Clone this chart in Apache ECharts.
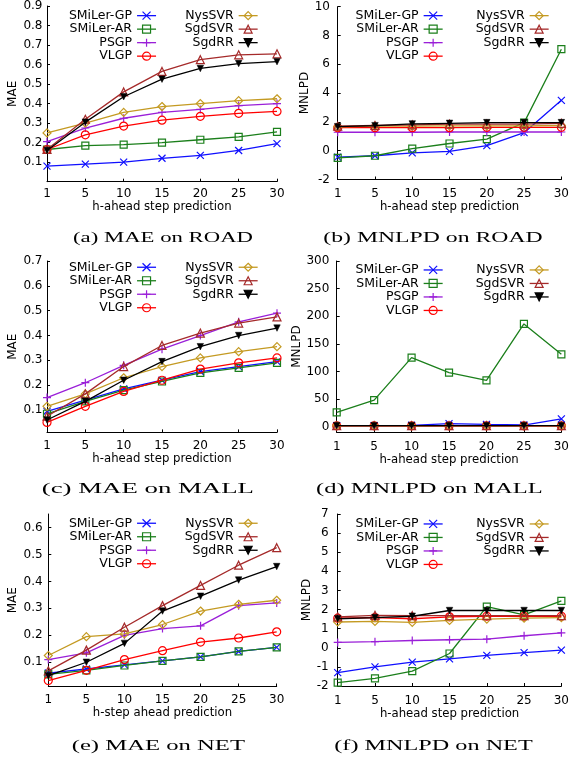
<!DOCTYPE html>
<html><head><meta charset="utf-8">
<script src="https://cdn.jsdelivr.net/npm/echarts@6/dist/echarts.min.js"></script>
<style>html,body{margin:0;padding:0;background:#fff}#c{width:572px;height:762px}</style>
</head><body><div id="c"></div>
<script>
// ---------- data ----------
const steps = ['1', '5', '10', '15', '20', '25', '30'];
const methods = ['SMiLer-GP', 'SMiLer-AR', 'PSGP', 'VLGP', 'NysSVR', 'SgdSVR', 'SgdRR'];

// rows follow `methods`
const maeRoad = [
  [0.08, 0.09, 0.10, 0.12, 0.135, 0.16, 0.195],
  [0.165, 0.185, 0.19, 0.20, 0.215, 0.23, 0.255],
  [0.205, 0.275, 0.325, 0.355, 0.37, 0.39, 0.40],
  [0.165, 0.24, 0.285, 0.315, 0.335, 0.35, 0.36],
  [0.25, 0.30, 0.355, 0.385, 0.40, 0.415, 0.425],
  [0.165, 0.32, 0.46, 0.565, 0.625, 0.65, 0.655],
  [0.16, 0.305, 0.435, 0.525, 0.58, 0.605, 0.615]
];
const mnlpdRoad = [
  [-0.45, -0.35, -0.15, -0.05, 0.35, 1.25, 3.5],
  [-0.5, -0.35, 0.15, 0.5, 0.8, 1.95, 7.05],
  [1.28, 1.28, 1.28, 1.3, 1.3, 1.3, 1.3],
  [1.6, 1.6, 1.6, 1.6, 1.62, 1.62, 1.62],
  [1.65, 1.7, 1.7, 1.72, 1.72, 1.72, 1.75],
  [1.7, 1.75, 1.8, 1.85, 1.85, 1.85, 1.9],
  [1.67, 1.74, 1.86, 1.9, 1.95, 1.95, 1.95]
];
const maeMall = [
  [0.095, 0.14, 0.185, 0.22, 0.255, 0.275, 0.295],
  [0.085, 0.135, 0.18, 0.215, 0.25, 0.27, 0.29],
  [0.15, 0.21, 0.28, 0.345, 0.40, 0.455, 0.49],
  [0.05, 0.115, 0.175, 0.22, 0.265, 0.29, 0.31],
  [0.115, 0.165, 0.23, 0.275, 0.31, 0.335, 0.355],
  [0.075, 0.165, 0.275, 0.36, 0.41, 0.45, 0.475],
  [0.06, 0.135, 0.22, 0.295, 0.355, 0.40, 0.43]
];
const mnlpdMall = [
  [2, 2, 2.5, 5.5, 4, 3, 14],
  [26, 48, 125, 98, 84, 186, 131],
  [1.3, 1.3, 1.3, 1.3, 1.3, 1.3, 1.3],
  [1.6, 1.6, 1.6, 1.6, 1.6, 1.6, 1.6],
  [1.7, 1.7, 1.7, 1.7, 1.7, 1.7, 1.7],
  [1.8, 1.8, 1.8, 1.8, 1.8, 1.8, 1.8],
  [1.9, 1.9, 1.9, 1.9, 1.9, 1.9, 1.9]
];
const maeNet = [
  [0.06, 0.075, 0.09, 0.105, 0.12, 0.14, 0.155],
  [0.055, 0.07, 0.088, 0.105, 0.12, 0.14, 0.155],
  [0.11, 0.135, 0.20, 0.225, 0.235, 0.31, 0.32],
  [0.032, 0.07, 0.11, 0.143, 0.175, 0.19, 0.213],
  [0.125, 0.195, 0.205, 0.24, 0.29, 0.315, 0.33],
  [0.068, 0.145, 0.23, 0.31, 0.385, 0.46, 0.525],
  [0.05, 0.10, 0.17, 0.29, 0.345, 0.405, 0.455]
];
const mnlpdNet = [
  [-1.3, -1.0, -0.75, -0.58, -0.4, -0.25, -0.12],
  [-1.82, -1.6, -1.22, -0.3, 2.15, 1.72, 2.45],
  [0.28, 0.32, 0.38, 0.42, 0.45, 0.63, 0.78],
  [1.55, 1.58, 1.52, 1.62, 1.65, 1.65, 1.65],
  [1.35, 1.38, 1.33, 1.43, 1.5, 1.55, 1.58],
  [1.62, 1.7, 1.68, 1.68, 1.68, 1.68, 1.68],
  [1.52, 1.58, 1.65, 1.95, 1.95, 1.95, 1.95]
];

const ticksMaeRoad = [0.1, 0.2, 0.3, 0.4, 0.5, 0.6, 0.7, 0.8, 0.9];
const ticksMnlpdRoad = [-2, 0, 2, 4, 6, 8, 10];
const ticksMaeMall = [0.1, 0.2, 0.3, 0.4, 0.5, 0.6, 0.7];
const ticksMnlpdMall = [0, 50, 100, 150, 200, 250, 300];
const ticksMaeNet = [0.1, 0.2, 0.3, 0.4, 0.5, 0.6];
const ticksMnlpdNet = [-2, -1, 0, 1, 2, 3, 4, 5, 6, 7];

// ---------- styles ----------
const colors = ['#1010ff', '#1b7f1b', '#9a1fd8', '#ff0000', '#c49a22', '#a52a2a', '#000000'];
const symbols = [
  'path://M0,0L8,8M8,0L0,8',
  'rect',
  'path://M4,0L4,8M0,4L8,4',
  'circle',
  'diamond',
  'triangle',
  'path://M0,0L10,0L5,8Z'
];
const hollow = [true, true, true, true, true, true, false];
const symSizes = [7, 7, 8, 8, 8, 8, 6.5];

const SANS = 'DejaVu Sans';
const panels = [
  {data: maeRoad, ticks: ticksMaeRoad, min: 0, max: 0.9, grid: {left: 47, top: 5, width: 230, height: 176.7},
   yName: 'MAE', yGap: 28, yMargin: 4.5, xName: 'h-ahead step prediction', xGap: 18.3, xMargin: 6,
   legTop: 8.9, legR1: 415.3, legR2: 313.7, caption: '(a) MAE on ROAD', cap: [73, 253, 237.7]},
  {data: mnlpdRoad, ticks: ticksMnlpdRoad, min: -2, max: 10, grid: {left: 337.7, top: 6.7, width: 227.3, height: 172.8},
   yName: 'MNLPD', yGap: 22.4, yMargin: 7.7, xName: 'h-ahead step prediction', xGap: 21.5, xMargin: 8,
   legTop: 8.9, legR1: 128.7, legR2: 22.7, caption: '(b) MNLPD on ROAD', cap: [323.3, 542.7, 237.7]},
  {data: maeMall, ticks: ticksMaeMall, min: 0.01, max: 0.7, grid: {left: 47, top: 261, width: 230, height: 171.4},
   yName: 'MAE', yGap: 28.3, yMargin: 4.5, xName: 'h-ahead step prediction', xGap: 21, xMargin: 7,
   legTop: 260.5, legR1: 415.3, legR2: 313.7, caption: '(c) MAE on MALL', cap: [41.7, 254, 489.3]},
  {data: mnlpdMall, ticks: ticksMnlpdMall, min: -10, max: 300, grid: {left: 336.7, top: 261, width: 228.3, height: 171.2},
   yName: 'MNLPD', yGap: 31.4, yMargin: 7.4, xName: 'h-ahead step prediction', xGap: 21.8, xMargin: 9,
   legTop: 263.2, legR1: 128.7, legR2: 22.7, caption: '(d) MNLPD on MALL', cap: [316, 542.7, 489.3]},
  {data: maeNet, ticks: ticksMaeNet, min: 0.01, max: 0.65, grid: {left: 48.3, top: 514, width: 228.4, height: 172.5},
   yName: 'MAE', yGap: 29.6, yMargin: 5.6, xName: 'h-step ahead prediction', xGap: 20.6, xMargin: 7,
   legTop: 516.5, legR1: 415.3, legR2: 313.7, caption: '(e) MAE on NET', cap: [71.7, 245, 746]},
  {data: mnlpdNet, ticks: ticksMnlpdNet, min: -2, max: 7, grid: {left: 337.7, top: 514, width: 227.3, height: 172},
   yName: 'MNLPD', yGap: 17.4, yMargin: 9, xName: 'h-ahead step prediction', xGap: 21.3, xMargin: 9,
   legTop: 517.2, legR1: 128.7, legR2: 22.7, caption: '(f) MNLPD on NET', cap: [334.3, 532.7, 746]}
];

const lblStyle = {color: '#000', fontFamily: SANS, fontSize: 12};

const grids = [], xAxes = [], yAxes = [], series = [], legends = [], graphics = [];
const capFont = '15.5px "Liberation Serif"';
const mctx = document.createElement('canvas').getContext('2d');
mctx.font = capFont;

panels.forEach((p, i) => {
  grids.push(Object.assign({containLabel: false}, p.grid));
  xAxes.push({
    gridIndex: i, type: 'category', data: steps, boundaryGap: false,
    axisLine: {show: true, onZero: false, lineStyle: {color: '#000', width: 1}},
    axisTick: {show: true, inside: true, length: 3, lineStyle: {color: '#000'}},
    axisLabel: Object.assign({margin: p.xMargin}, lblStyle),
    splitLine: {show: false},
    name: p.xName, nameLocation: 'middle', nameGap: p.xGap,
    nameTextStyle: {color: '#000', fontFamily: SANS, fontSize: 11.7}
  });
  yAxes.push({
    gridIndex: i, type: 'value', min: p.min, max: p.max,
    axisLine: {show: true, onZero: false, lineStyle: {color: '#000', width: 1}},
    splitLine: {show: false},
    axisTick: {show: true, inside: true, length: 3, lineStyle: {color: '#000'}, customValues: p.ticks},
    axisLabel: Object.assign({margin: p.yMargin, customValues: p.ticks}, lblStyle),
    name: p.yName, nameLocation: 'middle', nameGap: p.yGap,
    nameTextStyle: {color: '#000', fontFamily: SANS, fontSize: 12}
  });
  methods.forEach((m, k) => {
    series.push({
      type: 'line', name: m, xAxisIndex: i, yAxisIndex: i, data: p.data[k],
      symbol: symbols[k], symbolSize: symSizes[k],
      lineStyle: {color: colors[k], width: 1.3},
      itemStyle: {color: hollow[k] ? 'rgba(255,255,255,0)' : colors[k], borderColor: colors[k], borderWidth: hollow[k] ? 1.2 : 0.5},
      emphasis: {disabled: true}, z: 2 + k
    });
  });
  const legBase = {
    orient: 'vertical', align: 'right', top: p.legTop, itemWidth: 19, itemHeight: 10, itemGap: 0,
    padding: 0, selectedMode: false,
    textStyle: {color: '#000', fontFamily: SANS, fontSize: 12.5, lineHeight: 13.5},
    itemStyle: {borderWidth: 1.2}, lineStyle: {width: 1.3}
  };
  legends.push(Object.assign({}, legBase, {right: p.legR1, data: methods.slice(0, 4)}));
  legends.push(Object.assign({}, legBase, {right: p.legR2, data: methods.slice(4)}));
  const w = mctx.measureText(p.caption).width;
  graphics.push({
    type: 'text', x: (p.cap[0] + p.cap[1]) / 2, y: p.cap[2], scaleX: (p.cap[1] - p.cap[0]) / w,
    style: {text: p.caption, font: capFont, fill: '#000', align: 'center', verticalAlign: 'middle'}
  });
});

const chart = echarts.init(document.getElementById('c'), null, {renderer: 'canvas'});
chart.setOption({
  animation: false,
  backgroundColor: '#fff',
  grid: grids, xAxis: xAxes, yAxis: yAxes, series, legend: legends,
  graphic: graphics
});
</script></body></html>
